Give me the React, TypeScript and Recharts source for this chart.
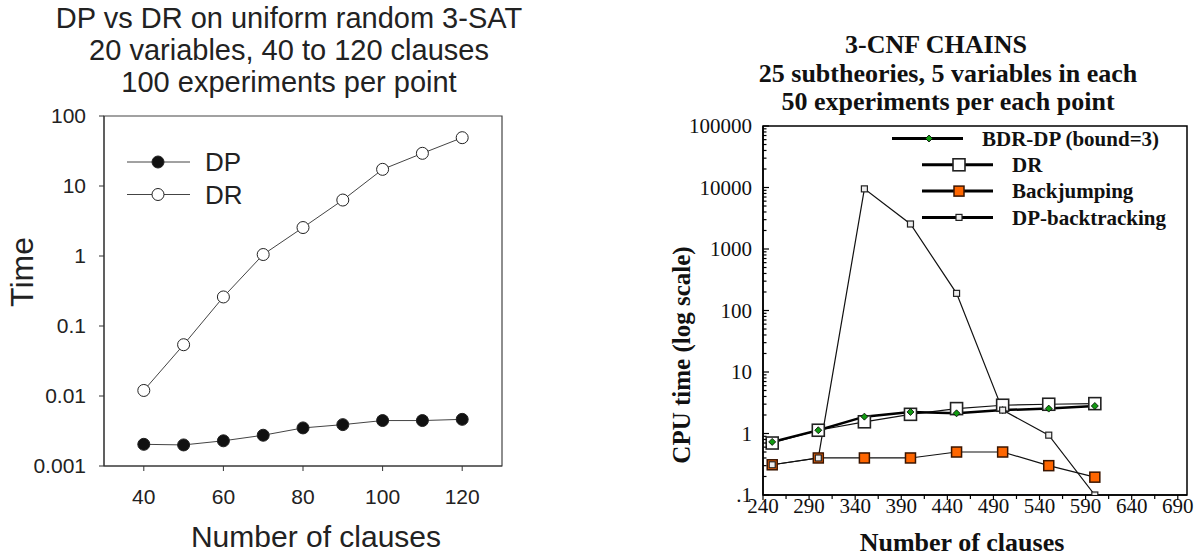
import React from 'react';
import { LineChart, Line, XAxis, YAxis, Legend, ReferenceArea } from 'recharts';

// left panel: DP vs DR on random 3-SAT
const clauses = [40, 50, 60, 70, 80, 90, 100, 110, 120];
const dpTime = [0.00204, 0.002, 0.00229, 0.00275, 0.0035, 0.0039, 0.00446, 0.00446, 0.00464];
const drTime = [0.012, 0.054, 0.26, 1.05, 2.55, 6.3, 17.3, 29.3, 49];
const satXTicks = [40, 60, 80, 100, 120];
const satYTicks = [0.001, 0.01, 0.1, 1, 10, 100];

// right panel: 3-CNF chains
const chainClauses = [250, 300, 350, 400, 450, 500, 550, 600];
const bdrDp = [0.73, 1.13, 1.88, 2.24, 2.13, 2.4, 2.54, 2.8];
const dr = [0.7, 1.13, 1.55, 2.05, 2.54, 2.88, 2.99, 3.06];
const backjumping = [0.31, 0.4, 0.4, 0.4, 0.5, 0.5, 0.3, 0.195];
const dpBacktracking = [0.31, 0.4, 9500, 2550, 190, 2.4, 0.94, 0.1];
const chainXTicks = [240, 290, 340, 390, 440, 490, 540, 590, 640, 690];
const chainXMinor = [265, 315, 365, 415, 465, 515, 565, 615, 665];
const chainYTicks = [0.1, 1, 10, 100, 1000, 10000, 100000];
const minorSteps = [2, 3, 4, 5, 6, 7, 8, 9];

const satData = clauses.map((c, i) => ({ clauses: c, DP: dpTime[i], DR: drTime[i] }));
const chainData = chainClauses.map((c, i) => ({
  clauses: c,
  bdr: bdrDp[i],
  dr: dr[i],
  bj: backjumping[i],
  dpbt: dpBacktracking[i],
}));

const allXTicks = [...chainXTicks, ...chainXMinor].sort((a, b) => a - b);
const allYTicks = [
  ...chainYTicks,
  ...chainYTicks.slice(0, -1).flatMap((d) => minorSteps.map((m) => +(d * m).toPrecision(3))),
].sort((a, b) => a - b);

const SANS = '"Liberation Sans", Arial, sans-serif';
const SERIF = '"Liberation Serif", "Times New Roman", serif';

const satLegend = [
  { name: 'DP', fill: '#111' },
  { name: 'DR', fill: '#fff' },
];

const chainLegend = [
  { name: 'BDR-DP (bound=3)', kind: 'bdr' },
  { name: 'DR', kind: 'dr' },
  { name: 'Backjumping', kind: 'bj' },
  { name: 'DP-backtracking', kind: 'dpbt' },
];

function marker(kind: string, cx: number, cy: number, key?: any) {
  if (kind === 'bdr') {
    const s = 3.5;
    return (
      <polygon
        key={key}
        points={`${cx},${cy - s} ${cx + s},${cy} ${cx},${cy + s} ${cx - s},${cy}`}
        fill="#119911"
        stroke="#000"
        strokeWidth={0.8}
      />
    );
  }
  if (kind === 'dr') {
    return <rect key={key} x={cx - 6} y={cy - 6} width={12} height={12} fill="#fff" stroke="#222" strokeWidth={1.6} />;
  }
  if (kind === 'bj') {
    return <rect key={key} x={cx - 5} y={cy - 5} width={10} height={10} fill="#ff6600" stroke="#3a1500" strokeWidth={1.5} />;
  }
  return <rect key={key} x={cx - 3} y={cy - 3} width={6} height={6} fill="#eee" stroke="#222" strokeWidth={1.2} />;
}

const SatLegend = () => (
  <svg width={140} height={70}>
    {satLegend.map((item, i) => {
      const y = 16 + i * 32.5;
      return (
        <g key={item.name}>
          <line x1={2} x2={65} y1={y} y2={y} stroke="#444" />
          <circle cx={33} cy={y} r={6} fill={item.fill} stroke="#222" />
          <text x={80} y={y} dy="0.36em" fontSize={26} fontFamily={SANS} fill="#222">
            {item.name}
          </text>
        </g>
      );
    })}
  </svg>
);

const ChainLegend = () => (
  <svg width={310} height={110}>
    {chainLegend.map((item, i) => {
      const y = 13.5 + i * 26.3;
      const shift = i === 0 ? -30 : 0;
      return (
        <g key={item.name}>
          <line x1={42 + shift} x2={113 + shift} y1={y} y2={y} stroke="#000" strokeWidth={3} />
          {marker(item.kind, 79 + shift, y)}
          <text x={132 + shift} y={y} dy="0.34em" fontSize={21} fontWeight="bold" fontFamily={SERIF} fill="#111">
            {item.name}
          </text>
        </g>
      );
    })}
  </svg>
);

const ChainXTick = (props: any) => {
  const { x, y, payload } = props;
  const major = chainXTicks.includes(payload.value);
  return (
    <g>
      <line x1={x} x2={x} y1={y} y2={y + (major ? 5 : 4)} stroke="#000" strokeWidth={1.2} />
      {major && (
        <text x={x} y={y + 3} dy="0.71em" textAnchor="middle" fontSize={21} fontFamily={SERIF} fill="#111">
          {payload.value}
        </text>
      )}
    </g>
  );
};

const ChainYTick = (props: any) => {
  const { x, y, payload } = props;
  const major = chainYTicks.includes(payload.value);
  const label = payload.value < 1 ? '.1' : String(payload.value);
  return (
    <g>
      <line x1={x} x2={x + (major ? 6 : 3.5)} y1={y} y2={y} stroke="#000" strokeWidth={1.2} />
      {major && (
        <text x={x - 11} y={y} dy="0.355em" textAnchor="end" fontSize={21} fontFamily={SERIF} fill="#111">
          {label}
        </text>
      )}
    </g>
  );
};

export default function App() {
  return (
    <div style={{ position: 'fixed', left: 0, top: 0, width: 1196, height: 559, background: '#fff' }}>
      {/* left panel */}
      <div style={{ position: 'absolute', left: 0, top: 0 }}>
        <LineChart width={520} height={559} data={satData} margin={{ top: 116, right: 18, bottom: 0, left: 0 }}>
          <XAxis
            dataKey="clauses"
            type="number"
            domain={[30, 130]}
            ticks={satXTicks}
            interval={0}
            height={93}
            tickSize={5}
            tickMargin={18}
            stroke="#333"
            tick={{ fill: '#222', fontSize: 21, fontFamily: SANS }}
          />
          <YAxis
            type="number"
            scale="log"
            domain={[0.001, 100]}
            allowDataOverflow
            ticks={satYTicks}
            interval={0}
            width={104}
            tickSize={5}
            tickMargin={13}
            stroke="#333"
            tick={{ fill: '#222', fontSize: 21, fontFamily: SANS }}
          />
          <ReferenceArea x1={30} x2={130} y1={0.001} y2={100} fill="none" stroke="#444" strokeWidth={1.2} />
          <Line
            dataKey="DP"
            stroke="#444"
            strokeWidth={1}
            isAnimationActive={false}
            dot={{ r: 6, fill: '#111', stroke: '#222', strokeWidth: 1 }}
          />
          <Line
            dataKey="DR"
            stroke="#444"
            strokeWidth={1}
            isAnimationActive={false}
            dot={{ r: 6, fill: '#fff', stroke: '#222', strokeWidth: 1 }}
          />
          <Legend
            layout="horizontal"
            verticalAlign="middle"
            align="center"
            wrapperStyle={{ left: 125, top: 146, width: 140, height: 70 }}
            content={() => <SatLegend />}
          />
        </LineChart>
        <div
          style={{
            position: 'absolute',
            left: 0,
            top: 2,
            width: 578,
            textAlign: 'center',
            fontFamily: SANS,
            fontSize: 29,
            lineHeight: '32px',
            color: '#222',
          }}
        >
          <div>DP vs DR on uniform random 3-SAT</div>
          <div>20 variables, 40 to 120 clauses</div>
          <div>100 experiments per point</div>
        </div>
        <div
          style={{
            position: 'absolute',
            left: 22,
            top: 272,
            transform: 'translate(-50%, -50%) rotate(-90deg)',
            fontFamily: SANS,
            fontSize: 32,
            color: '#222',
            whiteSpace: 'nowrap',
          }}
        >
          Time
        </div>
        <div
          style={{
            position: 'absolute',
            left: 316,
            top: 537,
            transform: 'translate(-50%, -50%)',
            fontFamily: SANS,
            fontSize: 30,
            color: '#222',
            whiteSpace: 'nowrap',
          }}
        >
          Number of clauses
        </div>
      </div>

      {/* right panel */}
      <div style={{ position: 'absolute', left: 600, top: 0 }}>
        <LineChart width={596} height={559} data={chainData} margin={{ top: 126, right: 9, bottom: 0, left: 0 }}>
          <XAxis
            dataKey="clauses"
            type="number"
            domain={[240, 700]}
            ticks={allXTicks}
            interval={0}
            height={64}
            tickSize={0}
            tickMargin={0}
            tickLine={false}
            axisLine={{ stroke: '#000', strokeWidth: 1.5 }}
            tick={<ChainXTick />}
          />
          <YAxis
            type="number"
            scale="log"
            domain={[0.1, 100000]}
            allowDataOverflow
            ticks={allYTicks}
            interval={0}
            width={163}
            tickSize={0}
            tickMargin={0}
            tickLine={false}
            axisLine={{ stroke: '#000', strokeWidth: 1.5 }}
            tick={<ChainYTick />}
          />
          <ReferenceArea x1={240} x2={700} y1={0.1} y2={100000} fill="none" stroke="#000" strokeWidth={1.5} />
          <Line
            dataKey="dr"
            stroke="#111"
            strokeWidth={1.2}
            isAnimationActive={false}
            dot={(p: any) => marker('dr', p.cx, p.cy, p.index)}
          />
          <Line
            dataKey="bdr"
            stroke="#000"
            strokeWidth={2.5}
            isAnimationActive={false}
            dot={(p: any) => marker('bdr', p.cx, p.cy, p.index)}
          />
          <Line
            dataKey="bj"
            stroke="#111"
            strokeWidth={1.2}
            isAnimationActive={false}
            dot={(p: any) => marker('bj', p.cx, p.cy, p.index)}
          />
          <Line
            dataKey="dpbt"
            stroke="#111"
            strokeWidth={1.2}
            isAnimationActive={false}
            dot={(p: any) => marker('dpbt', p.cx, p.cy, p.index)}
          />
          <Legend
            layout="horizontal"
            verticalAlign="middle"
            align="center"
            wrapperStyle={{ left: 280, top: 125, width: 310, height: 110 }}
            content={() => <ChainLegend />}
          />
        </LineChart>
        <div
          style={{
            position: 'absolute',
            left: 148,
            top: 31,
            width: 400,
            textAlign: 'center',
            fontFamily: SERIF,
            fontWeight: 'bold',
            fontSize: 26,
            lineHeight: '28.5px',
            color: '#111',
          }}
        >
          <div style={{ marginLeft: -24 }}>3-CNF CHAINS</div>
          <div>25 subtheories, 5 variables in each</div>
          <div>50 experiments per each point</div>
        </div>
        <div
          style={{
            position: 'absolute',
            left: 82,
            top: 355,
            transform: 'translate(-50%, -50%) rotate(-90deg)',
            fontFamily: SERIF,
            fontWeight: 'bold',
            fontSize: 25,
            color: '#111',
            whiteSpace: 'nowrap',
          }}
        >
          CPU time (log scale)
        </div>
        <div
          style={{
            position: 'absolute',
            left: 362,
            top: 543,
            transform: 'translate(-50%, -50%)',
            fontFamily: SERIF,
            fontWeight: 'bold',
            fontSize: 26,
            color: '#111',
            whiteSpace: 'nowrap',
          }}
        >
          Number of clauses
        </div>
      </div>
    </div>
  );
}
